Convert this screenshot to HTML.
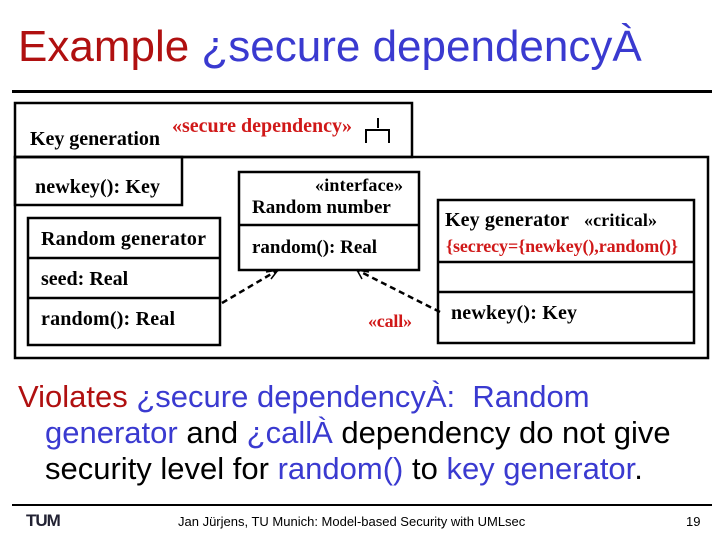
<!DOCTYPE html>
<html><head><meta charset="utf-8"><style>
body{margin:0;width:720px;height:540px;background:#fff;position:relative;overflow:hidden;font-family:"Liberation Sans",sans-serif}
.a{position:absolute;white-space:nowrap}
.r{color:#b01010}.b{color:#3a3ad0}
</style></head><body>
<div class="a" style="left:18px;top:22px;font-size:44px;line-height:50px"><span class="r">Example</span> <span class="b">¿secure dependencyÀ</span></div>
<div class="a" style="left:12px;top:90px;width:700px;height:3px;background:#000"></div>
<svg class="a" style="left:0;top:0" width="720" height="540" font-family="Liberation Serif,serif" font-weight="bold" font-size="20">
<g fill="none" stroke="#000" stroke-width="2.5">
<rect x="15" y="103" width="397" height="54"/>
<rect x="15" y="157" width="693" height="201"/>
<rect x="15" y="157" width="167" height="48"/>
<rect x="28" y="218" width="192" height="127"/>
<line x1="28" y1="258" x2="220" y2="258"/><line x1="28" y1="298" x2="220" y2="298"/>
<rect x="239" y="172" width="180" height="98"/>
<line x1="239" y1="225" x2="419" y2="225"/>
<rect x="438" y="200" width="256" height="143"/>
<line x1="438" y1="262" x2="694" y2="262"/><line x1="438" y1="292" x2="694" y2="292"/>
<path d="M378 118 V128 M366 143 V130 H389 V143" stroke-width="2"/>
<path d="M222 303 L278 270 M440 312 L357 270" stroke-dasharray="6,4" stroke-width="2.5"/>
<path d="M266 272 L278 270 L271 279 M362 279 L357 270 L369 272" stroke-width="1.5"/>
</g>
<g fill="#000">
<text x="30" y="145" textLength="130">Key generation</text>
<text x="35" y="193" textLength="125">newkey(): Key</text>
<text x="41" y="245" textLength="165">Random generator</text>
<text x="41" y="285">seed: Real</text>
<text x="41" y="325" textLength="134">random(): Real</text>
<text x="315" y="191" font-size="18" textLength="88">«interface»</text>
<text x="252" y="213" font-size="19">Random number</text>
<text x="252" y="253" font-size="19">random(): Real</text>
<text x="445" y="226" textLength="124">Key generator</text>
<text x="584" y="226" font-size="18" textLength="73">«critical»</text>
<text x="451" y="319" textLength="126">newkey(): Key</text>
</g>
<g fill="#d01818">
<text x="172" y="132" textLength="180">«secure dependency»</text>
<text x="446" y="252" font-size="18" textLength="232">{secrecy={newkey(),random()}</text>
<text x="368" y="327" font-size="18" textLength="44">«call»</text>
</g>
</svg>
<div class="a" style="left:18px;top:379px;font-size:31px;line-height:36px"><span class="r">Violates</span> <span class="b">¿secure dependencyÀ:&nbsp; Random</span></div>
<div class="a" style="left:45px;top:415px;font-size:31px;line-height:36px"><span class="b">generator</span> and <span class="b">¿callÀ</span> dependency do not give</div>
<div class="a" style="left:45px;top:451px;font-size:31px;line-height:36px">security level for <span class="b">random()</span> to <span class="b">key generator</span>.</div>
<div class="a" style="left:12px;top:504px;width:700px;height:2px;background:#000"></div>
<div class="a" style="left:26px;top:511px;font-size:17px;font-weight:bold;color:#223;letter-spacing:-1px">TUM</div>
<div class="a" style="left:178px;top:514px;font-size:13px">Jan Jürjens, TU Munich: Model-based Security with UMLsec</div>
<div class="a" style="left:686px;top:514px;font-size:13px">19</div>
</body></html>
